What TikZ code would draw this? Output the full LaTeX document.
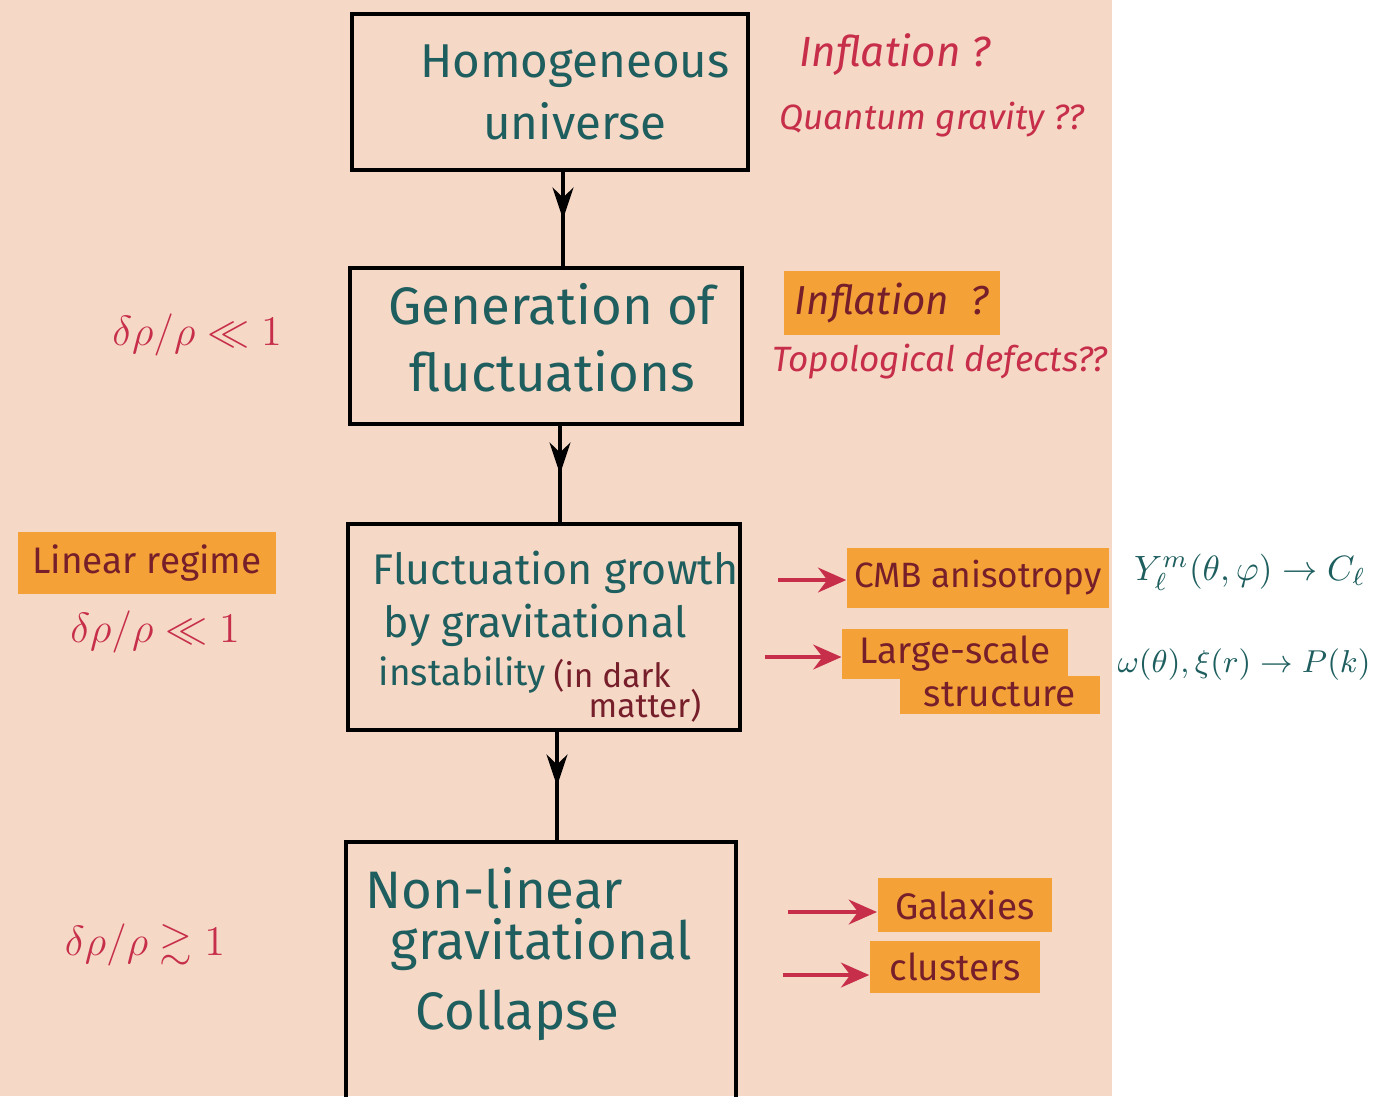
\documentclass[tikz,border=0pt]{standalone}
\usepackage{amsmath}
\usepackage{amssymb}
\usepackage{fontspec}
\setmainfont{Fira Sans}
\usetikzlibrary{
	arrows.meta,
	decorations.markings,
	positioning
}
\definecolor{PaperPink}{RGB}{246,216,198}
\definecolor{InkTeal}{RGB}{30,94,94}
\definecolor{InkRed}{RGB}{198,46,74}
\definecolor{InkBrown}{RGB}{118,30,42}
\definecolor{Marker}{RGB}{244,162,56}

\tikzset{
	stage/.style={draw, line width=1.1pt, inner sep=0pt},
	stagetext/.style={text=InkTeal, inner sep=0pt},
	note/.style={text=InkRed, inner sep=0pt, font=\fontsize{10}{12}\selectfont\itshape},
	marked/.style={fill=Marker, text=InkBrown, inner xsep=5pt, inner ysep=3.5pt, font=\fontsize{10.5}{12}\selectfont},
	ratio/.style={text=InkRed, inner sep=0pt, font=\fontsize{12}{14}\selectfont},
	result/.style={text=InkTeal, inner sep=0pt},
	flow/.style={line width=0.9pt, decoration={markings, mark=at position 0.5 with {\arrow{Stealth[length=9pt, width=6pt]}}}, postaction={decorate}},
	pointer/.style={InkRed, line width=1.3pt, -{Stealth[length=8pt, width=7pt]}}
}

\begin{document}
\begin{tikzpicture}[x=0.01cm, y=-0.01cm]
		\useasboundingbox (0, 0) rectangle (1373, 1096);
		\fill[white] (0, 0) rectangle (1373, 1096);
		\fill[PaperPink] (0, 0) rectangle (1112, 1096);
		\clip (0, 0) rectangle (1373, 1096);
		
		% the four stages
		\node[stage, minimum width=3.96cm, minimum height=1.56cm] (homog) at (550, 92) {};
		\node[stage, minimum width=3.92cm, minimum height=1.56cm] (genfl) at (546, 346) {};
		\node[stage, minimum width=3.92cm, minimum height=2.06cm] (growth) at (544, 627) {};
		\node[stage, minimum width=3.90cm, minimum height=3.16cm] (collapse) at (541, 1000) {};
		
		\node[stagetext, align=center, font=\fontsize{13.5}{17.6}\selectfont] (homogtxt) at (575, 92) {Homogeneous\\universe};
		\node[stagetext, align=center, font=\fontsize{15}{19}\selectfont] (genfltxt) at (552, 338) {Generation of\\fluctuations};
		
		\node[stagetext, anchor=west, font=\fontsize{12.2}{14}\selectfont] (growtha) at (372, 572) {Fluctuation growth};
		\node[stagetext, anchor=west, font=\fontsize{12.2}{14}\selectfont] (growthb) at (383, 625) {by gravitational};
		\node[stagetext, anchor=west, font=\fontsize{10.5}{12}\selectfont] (growthc) at (378, 675) {instability};
		\node[text=InkBrown, inner sep=0pt, anchor=west, font=\fontsize{9.5}{11}\selectfont] (darkA) at (553, 676) {(in dark};
		\node[text=InkBrown, inner sep=0pt, anchor=west, font=\fontsize{9.5}{11}\selectfont] (darkB) at (588, 706) {matter)};
		
		\node[stagetext, anchor=west, font=\fontsize{15}{17}\selectfont] (collapsea) at (365, 888) {Non-linear};
		\node[stagetext, anchor=west, font=\fontsize{15}{17}\selectfont] (collapseb) at (390, 945) {gravitational};
		\node[stagetext, anchor=west, font=\fontsize{15}{17}\selectfont] (collapsec) at (415, 1015) {Collapse};
		
		% spine
		\coordinate (spineA) at (563, 0);
		\coordinate (spineB) at (560, 0);
		\coordinate (spineC) at (557, 0);
		\draw[flow] (homog.south -| spineA) -- (genfl.north -| spineA);
		\draw[flow] (genfl.south -| spineB) -- (growth.north -| spineB);
		\draw[flow] (growth.south -| spineC) -- (collapse.north -| spineC);
		
		% open questions
		\node[note, font=\fontsize{12}{14}\selectfont\itshape] (inflA) at (895, 55) {Inflation ?};
		\node[note] (qgrav) at (932, 120) {Quantum gravity ??};
		\node[marked, inner xsep=3pt, font=\fontsize{11.5}{13}\selectfont\itshape] (inflB) at (892, 303) {Inflation \;?};
		\node[note] (topdef) at (940, 362) {Topological defects??};
		
		% regimes
		\node[ratio] (ratioA) at (197, 335) {$\delta\rho/\rho \ll 1$};
		\node[marked, inner xsep=4pt] (linreg) at (147, 563) {Linear regime};
		\node[ratio] (ratioB) at (155, 632) {$\delta\rho/\rho \ll 1$};
		\node[ratio] (ratioC) at (145, 945) {$\delta\rho/\rho \gtrsim 1$};
		
		% observables
		\node[marked, inner xsep=2pt, font=\fontsize{10}{12}\selectfont] (cmb) at (978, 578) {CMB anisotropy};
		\node[marked, inner ysep=2pt, minimum width=2.2cm] (lssA) at (955, 654) {Large-scale};
		\node[marked, inner ysep=2pt, minimum width=2.0cm] (lssB) at (1000, 695) {structure};
		\node[marked, minimum width=1.7cm] (galax) at (965, 905) {Galaxies};
		\node[marked, minimum width=1.7cm] (clust) at (955, 967) {clusters};
		
		\coordinate (cmbtail) at (778, 580);
		\coordinate (lsstail) at (765, 657);
		\coordinate (galtail) at (788, 912);
		\coordinate (clutail) at (783, 975);
		\draw[pointer] (cmbtail) -- (cmbtail -| cmb.west);
		\draw[pointer] (lsstail) -- (lsstail -| lssA.west);
		\draw[pointer] (galtail) -- (galtail -| galax.west);
		\draw[pointer] (clutail) -- (clutail -| clust.west);
		
		\node[result, font=\fontsize{10}{12}\selectfont] (ylm) at (1250, 572) {$Y_\ell^m(\theta,\varphi) \to C_\ell$};
		\node[result, font=\fontsize{9}{11}\selectfont] (pofk) at (1244, 665) {$\omega(\theta), \xi(r) \to P(k)$};
	\end{tikzpicture}
\end{document}
